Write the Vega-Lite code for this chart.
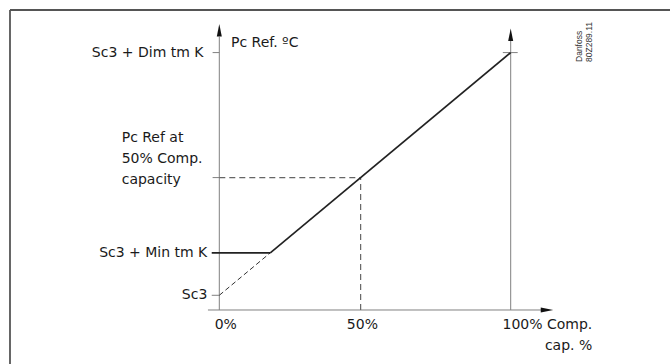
{
  "$schema": "https://vega.github.io/schema/vega-lite/v6.json",
  "width": 670,
  "height": 364,
  "autosize": {"type": "none"},
  "padding": 0,
  "background": "white",
  "config": {"view": {"stroke": null}},
  "layer": [
    {
      "data": {"values": [
        {"x": -71.83, "x2": -71.83, "y": 117.55, "y2": -28.31},
        {"x": -71.83, "x2": 154.67, "y": 117.55, "y2": 117.55}
      ]},
      "mark": {"type": "rule", "color": "#555555", "strokeWidth": 1.8},
      "encoding": {
        "x": {"field": "x", "type": "quantitative", "scale": {"domain": [-75.26, 154.67], "nice": false, "zero": false}, "axis": null},
        "x2": {"field": "x2"},
        "y": {"field": "y", "type": "quantitative", "scale": {"domain": [-28.31, 121.67], "nice": false, "zero": false}, "axis": null},
        "y2": {"field": "y2"}
      }
    },
    {
      "data": {"values": [
        {"x": -3.9, "x2": 110.6, "y": -6.06, "y2": -6.06},
        {"x": 0, "x2": 0, "y": -6.06, "y2": 106.5},
        {"x": 100, "x2": 100, "y": -6.06, "y2": 104.8},
        {"x": -2.3, "x2": 0, "y": 100, "y2": 100},
        {"x": -2.6, "x2": 0, "y": 0, "y2": 0},
        {"x": -2.3, "x2": 0, "y": 48.5, "y2": 48.5},
        {"x": 97.3, "x2": 102.4, "y": 100, "y2": 100}
      ]},
      "mark": {"type": "rule", "color": "#808080", "strokeWidth": 1},
      "encoding": {
        "x": {"field": "x", "type": "quantitative", "scale": {"domain": [-75.26, 154.67], "nice": false, "zero": false}, "axis": null},
        "x2": {"field": "x2"},
        "y": {"field": "y", "type": "quantitative", "scale": {"domain": [-28.31, 121.67], "nice": false, "zero": false}, "axis": null},
        "y2": {"field": "y2"}
      }
    },
    {
      "data": {"values": [
        {"x": 0, "x2": 48.5, "y": 48.5, "y2": 48.5},
        {"x": 48.5, "x2": 48.5, "y": -6.06, "y2": 48.5}
      ]},
      "mark": {"type": "rule", "color": "#666666", "strokeWidth": 1.2, "strokeDash": [6, 4]},
      "encoding": {
        "x": {"field": "x", "type": "quantitative", "scale": {"domain": [-75.26, 154.67], "nice": false, "zero": false}, "axis": null},
        "x2": {"field": "x2"},
        "y": {"field": "y", "type": "quantitative", "scale": {"domain": [-28.31, 121.67], "nice": false, "zero": false}, "axis": null},
        "y2": {"field": "y2"}
      }
    },
    {
      "data": {"values": [
        {"x": 0, "x2": 17.5, "y": 0, "y2": 17.5}
      ]},
      "mark": {"type": "rule", "color": "#333333", "strokeWidth": 1, "strokeDash": [5, 3]},
      "encoding": {
        "x": {"field": "x", "type": "quantitative", "scale": {"domain": [-75.26, 154.67], "nice": false, "zero": false}, "axis": null},
        "x2": {"field": "x2"},
        "y": {"field": "y", "type": "quantitative", "scale": {"domain": [-28.31, 121.67], "nice": false, "zero": false}, "axis": null},
        "y2": {"field": "y2"}
      }
    },
    {
      "data": {"values": [
        {"x": -2.6, "x2": 17.5, "y": 17.5, "y2": 17.5},
        {"x": 17.5, "x2": 100, "y": 17.5, "y2": 100}
      ]},
      "mark": {"type": "rule", "color": "#222222", "strokeWidth": 1.7},
      "encoding": {
        "x": {"field": "x", "type": "quantitative", "scale": {"domain": [-75.26, 154.67], "nice": false, "zero": false}, "axis": null},
        "x2": {"field": "x2"},
        "y": {"field": "y", "type": "quantitative", "scale": {"domain": [-28.31, 121.67], "nice": false, "zero": false}, "axis": null},
        "y2": {"field": "y2"}
      }
    },
    {
      "data": {"values": [
        {"x": 0, "y": 109.2},
        {"x": 100, "y": 107.4}
      ]},
      "mark": {"type": "point", "shape": "M0,-1L0.4,1L-0.4,1Z", "size": 156, "filled": true, "color": "#111111", "opacity": 1, "strokeWidth": 0},
      "encoding": {
        "x": {"field": "x", "type": "quantitative", "scale": {"domain": [-75.26, 154.67], "nice": false, "zero": false}, "axis": null},
        "y": {"field": "y", "type": "quantitative", "scale": {"domain": [-28.31, 121.67], "nice": false, "zero": false}, "axis": null}
      }
    },
    {
      "data": {"values": [
        {"x": 112.46, "y": -6.06}
      ]},
      "mark": {"type": "point", "shape": "M1,0L-1,-0.4L-1,0.4Z", "size": 156, "filled": true, "color": "#111111", "opacity": 1, "strokeWidth": 0},
      "encoding": {
        "x": {"field": "x", "type": "quantitative", "scale": {"domain": [-75.26, 154.67], "nice": false, "zero": false}, "axis": null},
        "y": {"field": "y", "type": "quantitative", "scale": {"domain": [-28.31, 121.67], "nice": false, "zero": false}, "axis": null}
      }
    },
    {
      "data": {"values": [
        {"label": "Sc3 + Dim tm K", "x": -5.42, "y": 100},
        {"label": "Sc3 + Min tm K", "x": -4.12, "y": 17.5},
        {"label": "Sc3", "x": -4.12, "y": 0},
        {"label": "100% Comp.", "x": 128.0, "y": -12.44},
        {"label": "cap. %", "x": 128.0, "y": -20.9}
      ]},
      "mark": {"type": "text", "align": "right", "baseline": "middle", "font": "DejaVu Sans", "fontSize": 14, "color": "#1a1a1a"},
      "encoding": {
        "x": {"field": "x", "type": "quantitative", "scale": {"domain": [-75.26, 154.67], "nice": false, "zero": false}, "axis": null},
        "y": {"field": "y", "type": "quantitative", "scale": {"domain": [-28.31, 121.67], "nice": false, "zero": false}, "axis": null},
        "text": {"field": "label"}
      }
    },
    {
      "data": {"values": [
        {"label": "0%", "x": 2.23, "y": -12.44},
        {"label": "50%", "x": 49.1, "y": -12.44}
      ]},
      "mark": {"type": "text", "align": "center", "baseline": "middle", "font": "DejaVu Sans", "fontSize": 14, "color": "#1a1a1a"},
      "encoding": {
        "x": {"field": "x", "type": "quantitative", "scale": {"domain": [-75.26, 154.67], "nice": false, "zero": false}, "axis": null},
        "y": {"field": "y", "type": "quantitative", "scale": {"domain": [-28.31, 121.67], "nice": false, "zero": false}, "axis": null},
        "text": {"field": "label"}
      }
    },
    {
      "data": {"values": [
        {"label": "Pc Ref. ºC", "x": 4.0, "y": 103.95}
      ]},
      "mark": {"type": "text", "align": "left", "baseline": "middle", "font": "DejaVu Sans", "fontSize": 14, "color": "#1a1a1a"},
      "encoding": {
        "x": {"field": "x", "type": "quantitative", "scale": {"domain": [-75.26, 154.67], "nice": false, "zero": false}, "axis": null},
        "y": {"field": "y", "type": "quantitative", "scale": {"domain": [-28.31, 121.67], "nice": false, "zero": false}, "axis": null},
        "text": {"field": "label"}
      }
    },
    {
      "data": {"values": [
        {"label": "Pc Ref at\n50% Comp.\ncapacity", "x": -33.5, "y": 63.2}
      ]},
      "mark": {"type": "text", "align": "left", "baseline": "alphabetic", "font": "DejaVu Sans", "fontSize": 14, "lineHeight": 21, "lineBreak": "\n", "color": "#1a1a1a"},
      "encoding": {
        "x": {"field": "x", "type": "quantitative", "scale": {"domain": [-75.26, 154.67], "nice": false, "zero": false}, "axis": null},
        "y": {"field": "y", "type": "quantitative", "scale": {"domain": [-28.31, 121.67], "nice": false, "zero": false}, "axis": null},
        "text": {"field": "label"}
      }
    },
    {
      "data": {"values": [
        {"label": "Danfoss\n80Z289.11", "x": 122.06, "y": 96.13}
      ]},
      "mark": {"type": "text", "align": "left", "baseline": "top", "angle": 270, "font": "Liberation Sans", "fontSize": 8.5, "lineHeight": 10, "lineBreak": "\n", "color": "#333333"},
      "encoding": {
        "x": {"field": "x", "type": "quantitative", "scale": {"domain": [-75.26, 154.67], "nice": false, "zero": false}, "axis": null},
        "y": {"field": "y", "type": "quantitative", "scale": {"domain": [-28.31, 121.67], "nice": false, "zero": false}, "axis": null},
        "text": {"field": "label"}
      }
    }
  ]
}
